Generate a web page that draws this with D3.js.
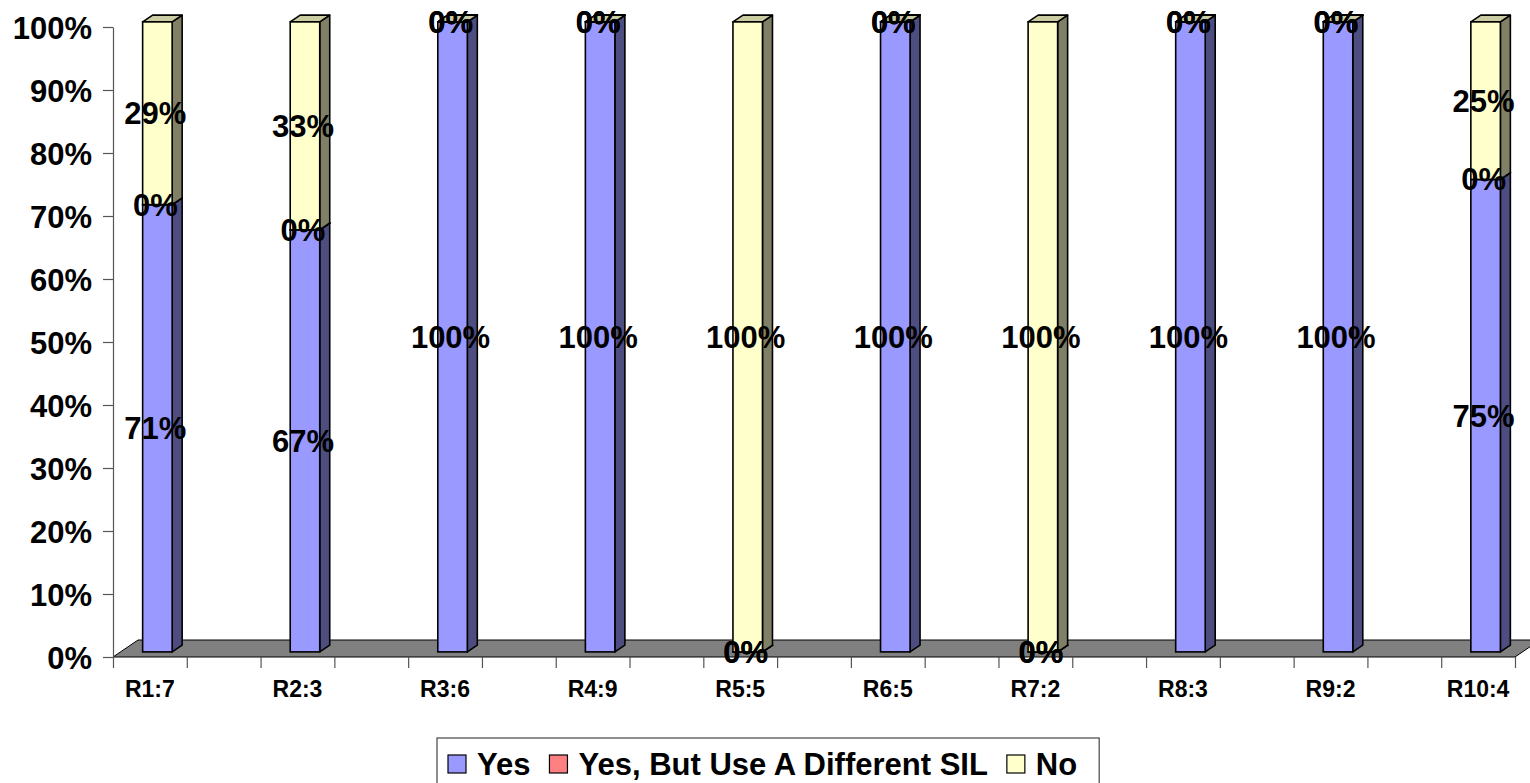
<!DOCTYPE html>
<html>
<head>
<meta charset="utf-8">
<script src="https://cdnjs.cloudflare.com/ajax/libs/d3/7.8.5/d3.min.js"></script>
<style>
  html, body { margin: 0; padding: 0; background: #fff; }
  svg text { font-family: "Liberation Sans", Arial, sans-serif; font-weight: bold; fill: #000; }
</style>
</head>
<body>
<svg id="chart" width="1530" height="783"></svg>
<script>
// ---- data ----
const categories = ["R1:7", "R2:3", "R3:6", "R4:9", "R5:5", "R6:5", "R7:2", "R8:3", "R9:2", "R10:4"];
const seriesNames = ["Yes", "Yes, But Use A Different SIL", "No"];
const yesValues  = [0.71, 0.67, 1.00, 1.00, 0.00, 1.00, 0.00, 1.00, 1.00, 0.75];
const diffValues = [0.00, 0.00, 0.00, 0.00, 0.00, 0.00, 0.00, 0.00, 0.00, 0.00];
const noValues   = [0.29, 0.33, 0.00, 0.00, 1.00, 0.00, 1.00, 0.00, 0.00, 0.25];
const yTicks = [0, 0.1, 0.2, 0.3, 0.4, 0.5, 0.6, 0.7, 0.8, 0.9, 1.0];

// ---- styles ----
const colors = {
  "Yes": {front: "#9999FF", side: "#4D4D80", top: "#7A7ACC"},
  "Yes, But Use A Different SIL": {front: "#FF8080", side: "#804040", top: "#CC6666"},
  "No": {front: "#FFFFCC", side: "#808066", top: "#CCCCA3"}
};

const svg = d3.select("#chart");
const rows = categories.map((c, i) => ({
  cat: c, idx: i,
  "Yes": yesValues[i],
  "Yes, But Use A Different SIL": diffValues[i],
  "No": noValues[i]
}));
const stacked = d3.stack().keys(seriesNames)(rows);

// layout
const plotLeft = 113, plotRight = 1515, plotTop = 27, plotBottom = 657;
const nSlots = categories.length * 2 - 1;
const xSlot = d3.scaleLinear().domain([0, nSlots]).range([plotLeft, plotRight]);
const y = d3.scaleLinear().domain([0, 1]).range([plotBottom, plotTop]);
const depth = {dx: 25, dy: -17};
const frontFrac = 0.3, backFrac = 0.7;
const slotW = xSlot(1) - xSlot(0);
const barW = slotW * 0.4;
const fdx = depth.dx * frontFrac, fdy = depth.dy * frontFrac;
const bdx = depth.dx * (backFrac - frontFrac), bdy = depth.dy * (backFrac - frontFrac);

// floor
const floorPts = [
  [xSlot(0), y(0)], [xSlot(nSlots), y(0)],
  [xSlot(nSlots) + depth.dx, y(0) + depth.dy], [xSlot(0) + depth.dx, y(0) + depth.dy]
];
svg.append("polygon")
  .attr("points", floorPts.map(p => p.join(",")).join(" "))
  .attr("fill", "#808080").attr("stroke", "#000").attr("stroke-width", 1);

// y axis
const yAxis = d3.axisLeft(y).tickValues(yTicks).tickFormat(d3.format(".0%"))
  .tickSize(10).tickSizeOuter(0).tickPadding(11);
const gy = svg.append("g").attr("transform", `translate(${plotLeft},0)`).call(yAxis);
gy.select(".domain").attr("stroke", "#555").attr("stroke-width", 1.2);
gy.selectAll(".tick line").attr("stroke", "#555").attr("stroke-width", 1.2);
gy.selectAll(".tick text").attr("font-size", 31).attr("dy", "0.36em")
  .style("font-family", "'Liberation Sans', Arial, sans-serif").style("font-weight", "bold");

// x axis ticks (slot boundaries)
const xAxis = d3.axisBottom(xSlot).tickValues(d3.range(nSlots + 1)).tickFormat("")
  .tickSize(11).tickSizeOuter(0);
const gx = svg.append("g").attr("transform", `translate(0,${plotBottom})`).call(xAxis);
gx.select(".domain").remove();
gx.selectAll(".tick line").attr("stroke", "#555").attr("stroke-width", 1.2);

// category labels
svg.append("g").selectAll("text").data(categories).join("text")
  .attr("x", (d, i) => xSlot(2 * i + 0.5))
  .attr("y", plotBottom + 40)
  .attr("text-anchor", "middle")
  .attr("font-size", 23)
  .text(d => d);

// bars
const gBars = svg.append("g");
categories.forEach((c, i) => {
  const x0 = xSlot(2 * i) + (slotW - barW) / 2 + fdx;
  const x1 = x0 + barW;
  stacked.forEach(s => {
    const seg = s[i];
    const col = colors[s.key];
    const yb = y(seg[0]) + fdy, yt = y(seg[1]) + fdy;
    const g = gBars.append("g");
    g.append("polygon")
      .attr("points", [[x1, yt], [x1 + bdx, yt + bdy], [x1 + bdx, yb + bdy], [x1, yb]].map(p => p.join(",")).join(" "))
      .attr("fill", col.side).attr("stroke", "#000").attr("stroke-width", 1.6).attr("stroke-linejoin", "round");
    g.append("polygon")
      .attr("points", [[x0, yt], [x1, yt], [x1 + bdx, yt + bdy], [x0 + bdx, yt + bdy]].map(p => p.join(",")).join(" "))
      .attr("fill", col.top).attr("stroke", "#000").attr("stroke-width", 1.6).attr("stroke-linejoin", "round");
    g.append("rect")
      .attr("x", x0).attr("y", yt).attr("width", barW).attr("height", Math.max(0, yb - yt))
      .attr("fill", col.front).attr("stroke", "#000").attr("stroke-width", 1.6);
  });
});

// data labels
const fmt = d3.format(".0%");
const gLab = svg.append("g");
categories.forEach((c, i) => {
  const xc = xSlot(2 * i) + slotW / 2 + fdx - 2;
  stacked.forEach(s => {
    const seg = s[i];
    const v = seg[1] - seg[0];
    const ym = y((seg[0] + seg[1]) / 2) + fdy;
    gLab.append("text")
      .attr("x", xc).attr("y", ym + 11)
      .attr("text-anchor", "middle")
      .attr("font-size", 31)
      .text(fmt(v));
  });
});

// legend
const lg = svg.append("g");
const legendBox = lg.append("rect")
  .attr("x", 437).attr("y", 738).attr("height", 70)
  .attr("fill", "#fff").attr("stroke", "#444").attr("stroke-width", 1.2);
let lx = 448;
seriesNames.forEach(name => {
  lg.append("rect").attr("x", lx).attr("y", 755).attr("width", 18).attr("height", 18)
    .attr("fill", colors[name].front).attr("stroke", "#000").attr("stroke-width", 1.2);
  const t = lg.append("text").attr("x", lx + 29).attr("y", 775).attr("font-size", 31).text(name);
  lx += 29 + t.node().getComputedTextLength() + 19;
});
legendBox.attr("width", lx - 437 + 3);
</script>
</body>
</html>
